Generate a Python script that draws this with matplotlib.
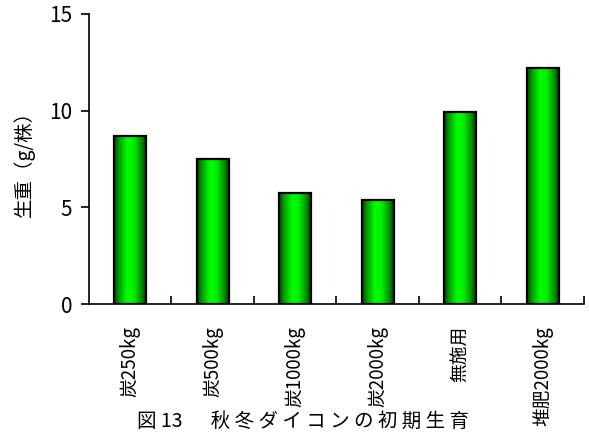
import numpy as np
import matplotlib
matplotlib.use("Agg")
import matplotlib.pyplot as plt
from matplotlib.colors import LinearSegmentedColormap

plt.rcParams['font.family'] = ['Noto Sans CJK JP', 'DejaVu Sans']

categories = ["炭250kg", "炭500kg", "炭1000kg", "炭2000kg", "無施用", "堆肥2000kg"]
weights = [8.71, 7.48, 5.76, 5.38, 9.93, 12.22]
yticks = [0, 5, 10, 15]
caption = ["図", "13", "　", "秋", "冬", "ダ", "イ", "コ", "ン", "の", "初", "期", "生", "育"]

# cylinder-like shading across each bar
shade = LinearSegmentedColormap.from_list(
    "shade", [(0.0, "#004a00"), (0.15, "#00a000"), (0.4, "#00ff00"),
              (0.6, "#00f000"), (0.85, "#008a00"), (1.0, "#003000")])
grad = np.linspace(0, 1, 64).reshape(1, -1)

fig = plt.figure(figsize=(5.89, 4.37), dpi=100)
ax = fig.add_axes([0.1511, 0.3043, 0.8404, 0.6637])

x = np.arange(len(categories))
bars = ax.bar(x, weights, width=0.39, facecolor="none", edgecolor="black",
              linewidth=1.6, zorder=3)
for b in bars:
    ax.imshow(grad, cmap=shade, aspect="auto", zorder=2,
              extent=(b.get_x(), b.get_x() + b.get_width(), 0, b.get_height()))

ax.set_xlim(-0.5, len(categories) - 0.5)
ax.set_ylim(0, 15)
ax.set_yticks(yticks)
ax.set_yticklabels([str(v) for v in yticks], fontsize=15,
                   family=['Liberation Sans Narrow', 'Noto Sans CJK JP'])
ax.tick_params(axis='y', direction='out', length=6, width=1.2, pad=6)

ax.set_xticks(x)
ax.set_xticklabels(categories, rotation=90, fontsize=13.5, va='top')
ax.tick_params(axis='x', which='major', length=0, pad=16)
ax.set_xticks(x + 0.5, minor=True)
ax.tick_params(axis='x', which='minor', direction='in', length=6, width=1.2)

for s in ["top", "right"]:
    ax.spines[s].set_visible(False)
for s in ["left", "bottom"]:
    ax.spines[s].set_linewidth(1.2)

ax.set_ylabel("生重（g/株）", fontsize=14, labelpad=10)

# spaced-out caption under the chart
fig.text(0.515, 0.036, " ".join(caption), ha="center", va="center",
         fontsize=14)

fig.savefig("out.png", dpi=100)
